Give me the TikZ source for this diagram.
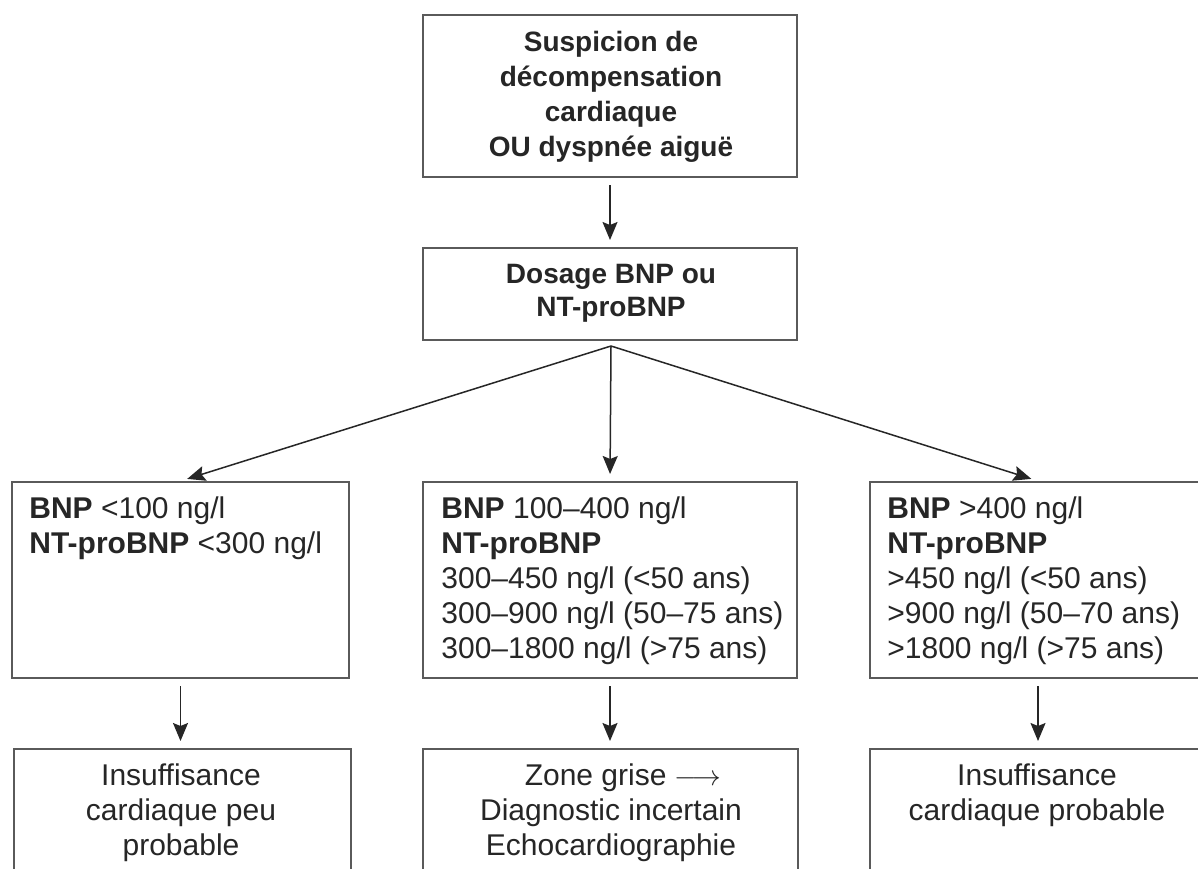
\documentclass[tikz,border=0pt]{standalone}
\usepackage{fontspec}
\setmainfont{Liberation Sans}
\usetikzlibrary{arrows.meta}
\definecolor{boxgray}{HTML}{5A5A5A}
\definecolor{ink}{HTML}{262626}
\begin{document}
\begin{tikzpicture}[x=0.5pt,y=-0.5pt,
  box/.style={draw=boxgray,line width=1pt,inner sep=0pt,anchor=north west,fill=white},
  wide/.style={minimum width=187pt},
  narrow/.style={minimum width=168.5pt},
  ltext/.style={anchor=north west,inner sep=0pt,align=left,text=ink,
    font=\fontsize{15}{17.5}\selectfont},
  ctext/.style={anchor=north,inner sep=0pt,align=center,text=ink,
    font=\fontsize{15}{17.5}\selectfont},
  btext/.style={anchor=north,inner sep=0pt,align=center,text=ink,
    font=\fontsize{14}{17.5}\selectfont\bfseries},
  arr/.style={draw=ink,line width=0.75pt,-{Stealth[length=9pt,width=7.5pt,inset=1.5pt]},
    shorten <=3.5pt,shorten >=3.5pt}]
\useasboundingbox (0,0) rectangle (1198,868);
\fill[white] (0,0) rectangle (1198,868);
\clip (0,0) rectangle (1198,868);

% boxes
\node[box,wide,minimum height=81pt] (top) at (422,14) {};
\node[box,wide,minimum height=46pt] (dose) at (422,247) {};
\node[box,narrow,minimum height=98pt] (L) at (11,481) {};
\node[box,wide,minimum height=98pt] (M) at (422,481) {};
\node[box,minimum width=168pt,minimum height=98pt] (R) at (869,481) {};
\node[box,narrow,minimum height=100pt] (LL) at (13,748) {};
\node[box,minimum width=187.5pt,minimum height=100pt] (MM) at (422,748) {};
\node[box,minimum width=168pt,minimum height=100pt] (RR) at (869,748) {};

% texts
\node[btext] (ttop) at (611,31) {Suspicion de\\décompensation\\cardiaque\\OU dyspnée aiguë};
\node[btext,font=\fontsize{14}{16.5}\selectfont\bfseries] (tdose) at (611,264) {Dosage BNP ou\\NT-proBNP};
\node[ltext] (tL) at (29,496) {\textbf{BNP} <100 ng/l\\\textbf{NT-proBNP} <300 ng/l};
\node[ltext] (tM) at (441,496) {\textbf{BNP} 100--400 ng/l\\\textbf{NT-proBNP}\\300--450 ng/l (<50 ans)\\300--900 ng/l (50--75 ans)\\300--1800 ng/l (>75 ans)};
\node[ltext] (tR) at (887,496) {\textbf{BNP} >400 ng/l\\\textbf{NT-proBNP}\\>450 ng/l (<50 ans)\\>900 ng/l (50--70 ans)\\>1800 ng/l (>75 ans)};
\node[ctext] (tLL) at (181,763) {Insuffisance\\cardiaque peu\\probable};
\node[ctext] (tMM) at (611,763) {\hspace*{12pt}Zone grise $\longrightarrow$\\Diagnostic incertain\\Echocardiographie};
\node[ctext] (tRR) at (1037,763) {Insuffisance\\cardiaque probable};

% connectors
\coordinate (split) at (611,346);
\draw[arr] (top.south) -- (dose.north);
\draw[arr,shorten <=0pt] (split) -- (L.north);
\draw[arr,shorten <=0pt] (split) -- (M.north);
\draw[arr,shorten <=0pt] (split) -- (R.north);
\draw[arr] (L.south) -- (L.south |- LL.north);
\draw[arr] (M.south) -- (M.south |- MM.north);
\draw[arr] (R.south) -- (R.south |- RR.north);
\end{tikzpicture}
\end{document}
